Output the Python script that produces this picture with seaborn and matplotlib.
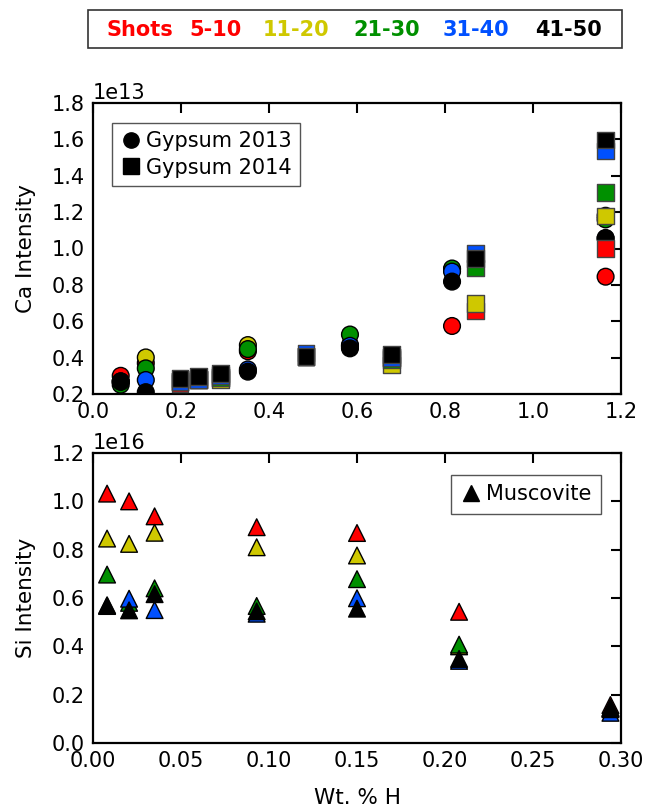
import numpy as np
import pandas as pd
import matplotlib
matplotlib.use("Agg")
import matplotlib.pyplot as plt
import seaborn as sns
from matplotlib.lines import Line2D
from matplotlib.patches import Rectangle

# ---------------- data ----------------
shots = ["5-10", "11-20", "21-30", "31-40", "41-50"]
colors = ["#ff0000", "#cfc800", "#009000", "#0050ff", "#000000"]

# Gypsum 2013 (circles), Ca intensity in units of 1e13
g13_x = [0.063, 0.12, 0.352, 0.584, 0.816, 1.165]
g13_red = [0.300, 0.370, 0.435, 0.460, 0.574, 0.845]
g13_yellow = [0.270, 0.401, 0.469, 0.470, 0.885, 1.180]
g13_green = [0.251, 0.341, 0.447, 0.527, 0.890, 1.160]
g13_blue = [0.268, 0.277, 0.335, 0.465, 0.873, 1.058]
g13_black = [0.268, 0.210, 0.323, 0.451, 0.818, 1.055]

# Gypsum 2014 (squares), Ca intensity in units of 1e13
g14_x = [0.198, 0.24, 0.29, 0.484, 0.679, 0.870, 1.165]
g14_red = [0.256, 0.280, 0.290, 0.405, 0.400, 0.657, 1.001]
g14_yellow = [0.270, 0.280, 0.280, 0.405, 0.360, 0.697, 1.179]
g14_green = [0.270, 0.280, 0.290, 0.405, 0.390, 0.893, 1.309]
g14_blue = [0.270, 0.278, 0.300, 0.425, 0.400, 0.973, 1.536]
g14_black = [0.285, 0.295, 0.313, 0.406, 0.416, 0.947, 1.597]

# Muscovite (triangles), Si intensity in units of 1e16
mu_x = [0.008, 0.0205, 0.035, 0.093, 0.15, 0.208, 0.294]
mu_red = [1.032, 1.000, 0.938, 0.893, 0.869, 0.543, 0.157]
mu_yellow = [0.846, 0.824, 0.870, 0.810, 0.776, 0.400, 0.145]
mu_green = [0.697, 0.580, 0.640, 0.567, 0.678, 0.407, 0.145]
mu_blue = [0.570, 0.597, 0.550, 0.535, 0.599, 0.340, 0.125]
mu_black = [0.567, 0.549, 0.616, 0.545, 0.556, 0.348, 0.140]

key_labels = ["Shots"] + shots

CA_SCALE = 1e13
SI_SCALE = 1e16


def long_df(x, series, scale):
    rows = []
    for shot, vals in zip(shots, series):
        for xv, yv in zip(x, vals):
            rows.append({"x": xv, "y": yv * scale, "shots": shot})
    return pd.DataFrame(rows)


df13 = long_df(g13_x, [g13_red, g13_yellow, g13_green, g13_blue, g13_black], CA_SCALE)
df14 = long_df(g14_x, [g14_red, g14_yellow, g14_green, g14_blue, g14_black], CA_SCALE)
dfmu = long_df(mu_x, [mu_red, mu_yellow, mu_green, mu_blue, mu_black], SI_SCALE)

# ---------------- style ----------------
sns.set_style("white")
TICK_FS = 15
LABEL_FS = 15.5
LEG_FS = 15
plt.rcParams.update({
    "font.family": ["DejaVu Sans"],
    "font.size": TICK_FS,
    "axes.linewidth": 1.6,
    "xtick.labelsize": TICK_FS,
    "ytick.labelsize": TICK_FS,
    "axes.labelsize": LABEL_FS,
    "axes.edgecolor": "black",
    "xtick.color": "black",
    "ytick.color": "black",
    "text.color": "black",
    "axes.labelcolor": "black",
})

fig = plt.figure(figsize=(6.48, 8.09), dpi=100)
W, H = 648, 809
ax1 = fig.add_axes([93 / W, 1 - 394 / H, (621 - 93) / W, (394 - 103) / H])
ax2 = fig.add_axes([93 / W, 1 - 743 / H, (621 - 93) / W, (743 - 453) / H])

pal = dict(zip(shots, colors))
S = 145

sns.scatterplot(data=df13, x="x", y="y", hue="shots", palette=pal, marker="o",
                s=S, edgecolor="black", linewidth=1.0, legend=False, ax=ax1, zorder=3)
sns.scatterplot(data=df14, x="x", y="y", hue="shots", palette=pal, marker="s",
                s=S, edgecolor="#444444", linewidth=1.0, legend=False, ax=ax1, zorder=4)
sns.scatterplot(data=dfmu, x="x", y="y", hue="shots", palette=pal, marker="^",
                s=S, edgecolor="black", linewidth=1.0, legend=False, ax=ax2, zorder=3)

ax1.set_xlim(0, 1.2)
ax1.set_ylim(0.2e13, 1.8e13)
ax1.set_xticks(np.arange(0, 1.21, 0.2))
ax1.set_yticks(np.arange(0.2e13, 1.81e13, 0.2e13))
ax1.set_xlabel("")
ax1.set_ylabel("Ca Intensity", fontsize=LABEL_FS, labelpad=11)

ax2.set_xlim(0, 0.30)
ax2.set_ylim(0, 1.2e16)
ax2.set_xticks(np.arange(0, 0.301, 0.05))
ax2.set_yticks(np.arange(0, 1.21e16, 0.2e16))
ax2.set_xlabel("Wt. % H", fontsize=LABEL_FS, labelpad=12)
ax2.set_ylabel("Si Intensity", fontsize=LABEL_FS, labelpad=11)

for ax in (ax1, ax2):
    for sp in ax.spines.values():
        sp.set_visible(True)
        sp.set_color("black")
        sp.set_linewidth(1.6)
    ax.tick_params(which="both", direction="in", top=True, right=True,
                   length=7, width=1.5, pad=6, labelsize=TICK_FS)
    ax.yaxis.get_offset_text().set_fontsize(TICK_FS)

# legends
h13 = Line2D([], [], marker="o", color="black", linestyle="none", markersize=11)
h14 = Line2D([], [], marker="s", color="black", linestyle="none", markersize=11)
leg1 = ax1.legend([h13, h14], ["Gypsum 2013", "Gypsum 2014"], loc="upper left",
                  bbox_to_anchor=(0.036, 0.931), borderaxespad=0, fontsize=LEG_FS,
                  handlelength=1.0, handletextpad=0.25, labelspacing=0.3,
                  borderpad=0.4, fancybox=False, framealpha=1)
leg1.get_frame().set_edgecolor("#555555")
leg1.get_frame().set_linewidth(1.0)

hmu = Line2D([], [], marker="^", color="black", linestyle="none", markersize=12)
leg2 = ax2.legend([hmu], ["Muscovite"], loc="upper right",
                  bbox_to_anchor=(0.962, 0.924), borderaxespad=0, fontsize=LEG_FS,
                  handlelength=1.0, handletextpad=0.25, borderpad=0.45,
                  fancybox=False, framealpha=1)
leg2.get_frame().set_edgecolor("#555555")
leg2.get_frame().set_linewidth(1.0)

# top colour key (box with coloured bold labels)
fig.patches.append(Rectangle((88 / W, 1 - 48 / H), (622 - 88) / W, (48 - 10) / H,
                             transform=fig.transFigure, facecolor="white",
                             edgecolor="#333333", linewidth=1.2))
key_x = [106, 189, 263, 353, 443, 535]
key_cols = [colors[0]] + colors
for lab, xx, cc in zip(key_labels, key_x, key_cols):
    fig.text(xx / W, 1 - 29.5 / H, lab, color=cc, fontsize=15, fontweight="bold",
             ha="left", va="center")

fig.savefig("out.png", dpi=100)
